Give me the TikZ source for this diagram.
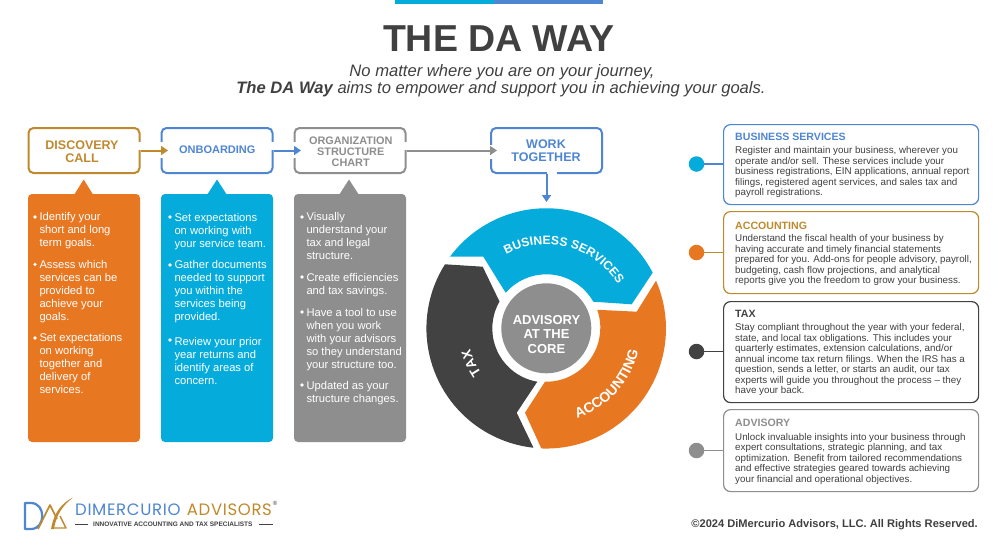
\documentclass[tikz,border=0pt]{standalone}
\usepackage{fontspec}
\setmainfont{Liberation Sans}
\newfontfamily\logofont[LetterSpace=4]{Poppins}
\usetikzlibrary{arrows.meta,calc,decorations.text}
\definecolor{cOrange}{HTML}{E87722}
\definecolor{cGold}{HTML}{BF8A2E}
\definecolor{cCyan}{HTML}{05ABDB}
\definecolor{cBlue}{HTML}{4F86D2}
\definecolor{cGray}{HTML}{8E8E8E}
\definecolor{cDark}{HTML}{424242}
\definecolor{cText}{HTML}{404040}
\tikzset{
  headbox/.style={draw=#1,line width=2pt,rounded corners=5pt,minimum width=111pt,minimum height=45pt,fill=white,inner sep=0pt,text=#1},
  headtext/.style={inner sep=0pt,align=center,text=#1},
  gapmark/.style={fill=white,draw=none,inner sep=0pt},
  panel/.style={fill=#1,rounded corners=4pt,minimum width=112pt,minimum height=248pt,inner sep=0pt},
  bul/.style={anchor=base west,inner sep=0pt,align=left,text=white,font=\fontsize{11.2}{12.85}\selectfont},
  dotb/.style={circle,fill=white,inner sep=0pt,minimum size=3.6pt},
  flow/.style={line width=2pt,draw=#1,-{Triangle[length=7pt,width=9pt,fill=#1]}},
  infobox/.style={draw=#1,line width=1.2pt,rounded corners=7pt,minimum width=255pt,fill=white,inner sep=0pt},
  infodot/.style={circle,fill=#1,minimum size=15.5pt,inner sep=0pt},
  infohead/.style={anchor=base west,inner sep=0pt,font=\fontsize{10.6}{11}\selectfont\bfseries,text=#1},
  infotext/.style={anchor=base west,inner sep=0pt,align=left,text=cText,font=\fontsize{9.8}{10.5}\selectfont}
}
\begin{document}
\begin{tikzpicture}[x=1pt,y=-1pt]
\useasboundingbox (0,0) rectangle (1000,547);
\fill[white] (0,0) rectangle (1000,547);
% top bar
\fill[cCyan] (395,0) rectangle (494,4);
\fill[cBlue] (494,0) rectangle (603,4);
% titles
\node[inner sep=0pt,text=cText,font=\fontsize{37.5}{38}\selectfont\bfseries] (title) at (499,39) {THE DA WAY};
\node[inner sep=0pt,anchor=base,text=cText,font=\fontsize{16.6}{17}\selectfont\itshape] (sub1) at (502,76) {No matter where you are on your journey,};
\node[inner sep=0pt,anchor=base,text=cText,font=\fontsize{16.6}{17}\selectfont\itshape] (sub2) at (501,93) {\textbf{The DA Way} aims to empower and support you in achieving your goals.};
% panels
\node[panel=cOrange] (p1) at (84,318) {};
\node[panel=cCyan] (p2) at (217,318) {};
\node[panel=cGray] (p3) at (350,318) {};
\fill[cOrange] (74,195) -- (83.7,179.5) -- (93.3,195) -- cycle;
\fill[cCyan] (207,195) -- (217,179.5) -- (227,195) -- cycle;
\fill[cGray] (339,195) -- (349,179.5) -- (359,195) -- cycle;
% head boxes
\node[headbox=cGold] (h1) at (84,150.5) {};
\node[headbox=cBlue] (h2) at (217,150.5) {};
\node[headbox=cGray] (h3) at (350,150.5) {};
\node[headbox=cBlue] (h4) at (546.5,150.5) {};
\node[headtext=cGold,font=\fontsize{12.5}{12.7}\selectfont\bfseries] (h1t) at (82,152) {DISCOVERY\\CALL};
\node[headtext=cBlue,font=\fontsize{11}{12}\selectfont\bfseries] (h2t) at (217.3,149.5) {ONBOARDING};
\node[headtext=cGray,font=\fontsize{10.9}{11}\selectfont\bfseries] (h3t) at (350.7,151.7) {ORGANIZATION\\STRUCTURE\\CHART};
\node[headtext=cBlue,font=\fontsize{12.5}{12.7}\selectfont\bfseries] (h4t) at (546,150.6) {WORK\\TOGETHER};
% wheel
\coordinate (c) at (546.3,328.3);
\fill[cCyan] (450,256.7) arc[start angle=-143.4,end angle=-27.6,radius=120] -- (631.7,304.3) -- (593.3,301.7) arc[start angle=-29.5,end angle=-138.8,radius=54] -- (483.3,256.7) -- cycle;
\fill[cOrange] (656,280.7) arc[start angle=-23.5,end angle=92.2,radius=120] -- (525,412.7) -- (545,381.7) arc[start angle=91.4,end angle=-19.4,radius=54] -- (636.7,311.7) -- cycle;
\fill[cDark] (445,264.3) arc[start angle=212.3,end angle=96.2,radius=120] -- (516.7,412.7) -- (537.3,381.7) arc[start angle=99.6,end angle=209.9,radius=54] -- (482.7,266.7) -- cycle;
\node[circle,fill=cGray,minimum size=90pt,inner sep=0pt] (core) at (c) {};
\node[inner sep=0pt,text=white,align=center,font=\fontsize{13}{14.2}\selectfont\bfseries] (coret) at (546.5,334.5) {ADVISORY\\AT THE\\CORE};
\path[decorate,decoration={text along path,text align=center,text={|\fontsize{12.2}{12.6}\selectfont\bfseries\color{white}|BUSINESS SERVICES}}] ($(c)+(-130:84)$) arc[start angle=-130,end angle=-20,radius=84];
\path[decorate,decoration={text along path,text align=center,text={|\fontsize{14}{14}\selectfont\bfseries\color{white}|ACCOUNTING}}] ($(c)+(85:95)$) arc[start angle=85,end angle=0,radius=95];
\path[decorate,decoration={text along path,text align=center,text={|\fontsize{13.5}{13.5}\selectfont\bfseries\color{white}|TAX}}] ($(c)+(135:79)$) arc[start angle=135,end angle=175,radius=79];
% gaps in the box outlines where the arrows pass
\node[gapmark,minimum width=5pt,minimum height=8pt] (g1) at (139.5,146) {};
\node[gapmark,minimum width=5pt,minimum height=8pt] (g2r) at (272.5,146) {};
\node[gapmark,minimum width=5pt,minimum height=8pt] (g3r) at (405.5,146) {};
\node[gapmark,minimum width=5pt,minimum height=16pt] (g2) at (161.5,150) {};
\node[gapmark,minimum width=5pt,minimum height=16pt] (g3) at (294.5,150) {};
\node[gapmark,minimum width=5pt,minimum height=14pt] (g4) at (491,152) {};
\node[gapmark,minimum width=10pt,minimum height=5pt] (g5) at (552,173) {};
\coordinate (t1) at (168,150.5);
\coordinate (t2) at (301,150.5);
\coordinate (t3) at (497,150.5);
\coordinate (t4) at (546.5,202);
\draw[flow=cGold] (h1.east) -- (t1);
\draw[flow=cBlue] (h2.east) -- (t2);
\draw[flow=cGray] (h3.east) -- (t3);
\draw[flow=cBlue] (h4.south) -- (t4);
% bullet text: second position = last line's baseline, third = centre of the first line
\foreach \n/\x/\y/\f/\txt in {
 a1/39.3/246/217/{Identify your\\short and long\\term goals.},
 a2/39.3/320/264.3/{Assess which\\services can be\\provided to\\achieve your\\goals.},
 a3/39.3/393/338/{Set expectations\\on working\\together and\\delivery of\\services.},
 b1/174.3/247/217/{Set expectations\\on working with\\your service team.},
 b2/174.3/320/265/{Gather documents\\needed to support\\you within the\\services being\\provided.},
 b3/174.3/384/340/{Review your prior\\year returns and\\identify areas of\\concern.},
 c1/306.3/259/217/{Visually\\understand your\\tax and legal\\structure.},
 c2/306.3/294/277/{Create efficiencies\\and tax savings.},
 c3/306.3/368/312/{Have a tool to use\\when you work\\with your advisors\\so they understand\\your structure too.},
 c4/306.3/402/385/{Updated as your\\structure changes.}}{
  \node[bul] (\n) at (\x,\y) {\txt};
  \node[dotb] (d\n) at (\x-4.3,\f) {};
}
% right column
\node[infobox=cBlue,minimum height=80pt,anchor=north west] (i1) at (723,124) {};
\node[infobox=cGold,minimum height=82pt,anchor=north west] (i2) at (723,211) {};
\node[infobox=cDark,minimum height=101pt,anchor=north west] (i3) at (723,301) {};
\node[infobox=cGray,minimum height=82pt,anchor=north west] (i4) at (723,409) {};
\node[infodot=cCyan] (o1) at (696.5,164) {};
\node[infodot=cOrange] (o2) at (696.5,252.5) {};
\node[infodot=cDark] (o3) at (696.5,351.5) {};
\node[infodot=cGray] (o4) at (696.5,450.5) {};
\draw[cBlue,line width=1.2pt] (o1) -- (i1.west |- o1);
\draw[cGold,line width=1.2pt] (o2) -- (i2.west |- o2);
\draw[cDark,line width=1.2pt] (o3) -- (i3.west |- o3);
\draw[cGray,line width=1.2pt] (o4) -- (i4.west |- o4);
\node[infohead=cBlue] (t1h) at (735,140) {BUSINESS SERVICES};
\node[infotext] (t1b) at (735,195.5) {Register and maintain your business, wherever you\\operate and/or sell. These services include your\\business registrations, EIN applications, annual report\\filings, registered agent services, and sales tax and\\payroll registrations.};
\node[infohead=cGold] (t2h) at (735,229) {ACCOUNTING};
\node[infotext] (t2b) at (735,283.5) {Understand the fiscal health of your business by\\having accurate and timely financial statements\\prepared for you. Add-ons for people advisory, payroll,\\budgeting, cash flow projections, and analytical\\reports give you the freedom to grow your business.};
\node[infohead=cDark] (t3h) at (735,317.3) {TAX};
\node[infotext] (t3b) at (735,393.5) {Stay compliant throughout the year with your federal,\\state, and local tax obligations. This includes your\\quarterly estimates, extension calculations, and/or\\annual income tax return filings. When the IRS has a\\question, sends a letter, or starts an audit, our tax\\experts will guide you throughout the process -- they\\have your back.};
\node[infohead=cGray] (t4h) at (735,426.3) {ADVISORY};
\node[infotext] (t4b) at (735,482.2) {Unlock invaluable insights into your business through\\expert consultations, strategic planning, and tax\\optimization. Benefit from tailored recommendations\\and effective strategies geared towards achieving\\your financial and operational objectives.};
\node[anchor=base east,inner sep=0pt,text=cText,font=\fontsize{11.1}{11}\selectfont\bfseries] (copy) at (978,527.5) {©2024 DiMercurio Advisors, LLC. All Rights Reserved.};
% logo
\draw[cBlue,line width=2.2pt,line join=round] (25,503) -- (31,503) .. controls (46,503) and (46,529) .. (31,529) -- (25,529) -- cycle;
\draw[cGold,line width=1.6pt,line join=round] (38,529) -- (50,505) -- (57,519);
\draw[cGold,line width=1.4pt,line join=round] (60,516) -- (66,528) -- (53,528);
\fill[cGold] (73,497.5) .. controls (62,503) and (54,512) .. (51,529) -- (54,529) .. controls (56,515) and (63,505) .. (73,497.5) -- cycle;
\node[inner sep=0pt,anchor=base west,text=cBlue,font=\logofont\fontsize{16.5}{17}\selectfont] (lg1) at (75,515.5) {DIMERCURIO};
\node[inner sep=0pt,anchor=base west,text=cGold,font=\logofont\fontsize{16.5}{17}\selectfont] (lg2) at (186.7,515.5) {ADVISORS};
\node[inner sep=0pt,text=cDark,font=\fontsize{6}{6}\selectfont] (lg3) at (275,503) {®};
\node[inner sep=0pt,anchor=base west,text=cDark,font=\fontsize{6.5}{7}\selectfont\bfseries] (lg4) at (93,526.6) {INNOVATIVE ACCOUNTING AND TAX SPECIALISTS};
\coordinate (da) at (75,524.4);
\coordinate (db) at (88,524.4);
\coordinate (dc) at (259,524.4);
\coordinate (dd) at (273,524.4);
\draw[cDark,line width=.8pt] (da) -- (db) (dc) -- (dd);
\end{tikzpicture}
\end{document}
